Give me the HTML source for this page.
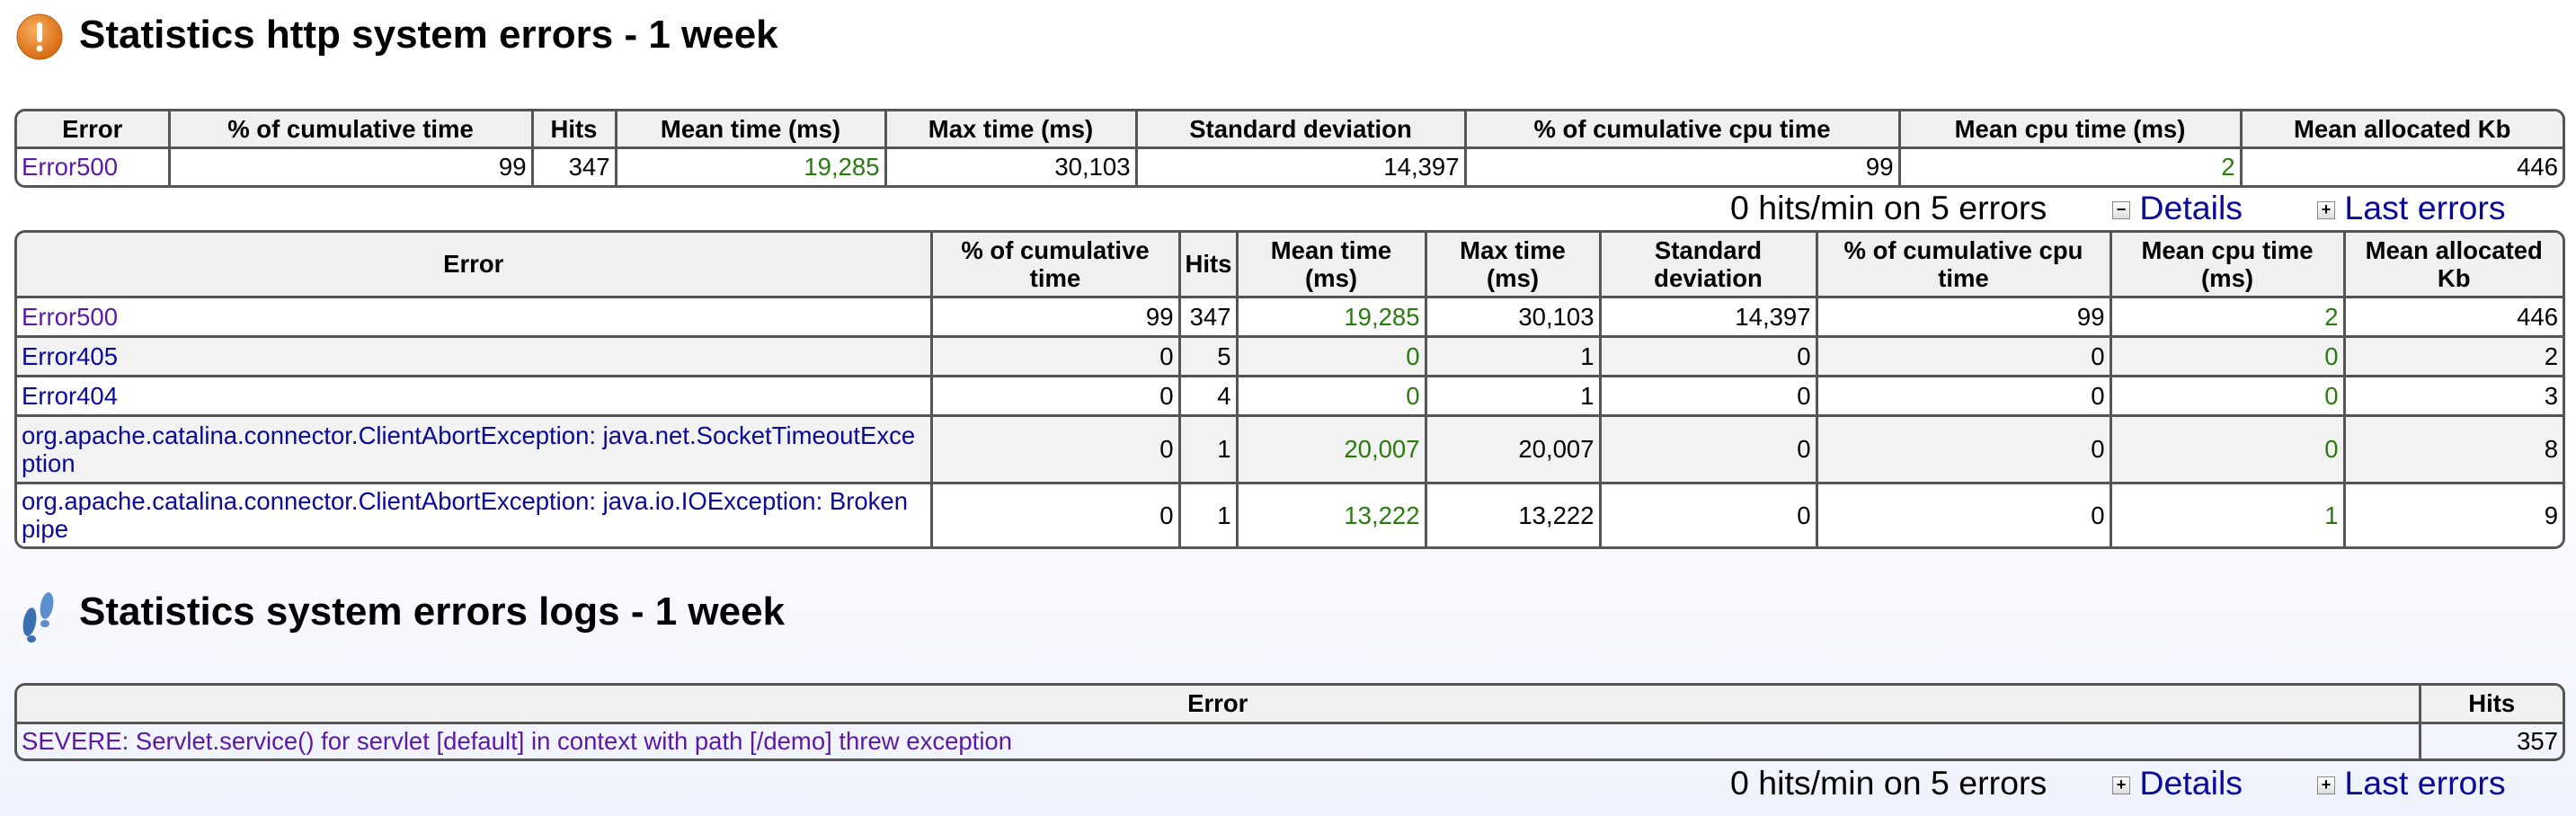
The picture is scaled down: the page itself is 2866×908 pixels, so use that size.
<!DOCTYPE html>
<html><head><meta charset="utf-8"><style>
html,body{margin:0;padding:0}
body{width:2866px;height:908px;position:relative;overflow:hidden;font-family:"Liberation Sans",Arial,sans-serif;background:linear-gradient(to bottom,#fff 0,#fff 50%,#eef2fc 100%)}
.t{position:absolute;font-weight:bold;font-size:44px;color:#000;white-space:nowrap}
.w{position:absolute;left:16px;width:2832px;border:3px solid #555;border-radius:12px;overflow:hidden}
table{border-collapse:collapse;table-layout:fixed;font-size:27.5px;width:100%}
td,th{border:3px solid #555;padding:0 5px;line-height:31px;overflow:hidden}
tr:first-child td,tr:first-child th{border-top:none}
tr:last-child td{border-bottom:none}
td:first-child,th:first-child{border-left:none}
td:last-child,th:last-child{border-right:none}
th{background:#f0f0f0;font-weight:bold;text-align:center}
td{text-align:right;background:#fff}
td.l{text-align:left}
tr.g td{background:#f2f2f2}
.p{color:#5a1aa6}.b{color:#0a0a99}.gr{color:#2b7a10}
.s{position:absolute;font-size:37.5px;white-space:nowrap;color:#000}
.lk{color:#0a0a99}
.bx{display:inline-block;width:18px;height:18px;border:1px solid #888;background:linear-gradient(#fff,#ddd);font-size:18px;line-height:17px;text-align:center;vertical-align:middle;color:#000;font-weight:bold}
</style></head><body>
<svg style="position:absolute;left:16px;top:14px" width="56" height="56"><defs><radialGradient id="o" cx="40%" cy="35%" r="65%"><stop offset="0" stop-color="#f8b060"/><stop offset="1" stop-color="#d86a10"/></radialGradient></defs><circle cx="28" cy="27" r="25" fill="url(#o)" stroke="#b85a10" stroke-width="1"/><rect x="25" y="11" width="6" height="22" rx="3" fill="#fff"/><circle cx="28" cy="40" r="3.5" fill="#fff"/></svg>
<div class="t" style="left:88px;top:14px">Statistics http system errors - 1 week</div>

<div class="w" style="top:121px">
<table><colgroup><col style="width:169px"><col style="width:404px"><col style="width:93px"><col style="width:300px"><col style="width:279px"><col style="width:366px"><col style="width:483px"><col style="width:380px"><col style="width:358px"></colgroup>
<tr style="height:40px"><th>Error</th><th>% of cumulative time</th><th>Hits</th><th>Mean time (ms)</th><th>Max time (ms)</th><th>Standard deviation</th><th>% of cumulative cpu time</th><th>Mean cpu time (ms)</th><th>Mean allocated Kb</th></tr>
<tr style="height:42px"><td class="l p">Error500</td><td>99</td><td>347</td><td class="gr">19,285</td><td>30,103</td><td>14,397</td><td>99</td><td class="gr">2</td><td>446</td></tr>
</table></div>

<div class="s" style="left:1925px;top:210px">0 hits/min on 5 errors</div>
<div class="s" style="left:2350px;top:210px"><span class="bx">−</span> <span class="lk">Details</span></div>
<div class="s" style="left:2578px;top:210px"><span class="bx">+</span> <span class="lk">Last errors</span></div>

<div class="w" style="top:256px">
<table><colgroup><col style="width:1017px"><col style="width:276px"><col style="width:64px"><col style="width:210px"><col style="width:194px"><col style="width:241px"><col style="width:327px"><col style="width:260px"><col style="width:243px"></colgroup>
<tr style="height:71px"><th>Error</th><th>% of cumulative time</th><th>Hits</th><th>Mean time (ms)</th><th>Max time (ms)</th><th>Standard deviation</th><th>% of cumulative cpu time</th><th>Mean cpu time (ms)</th><th>Mean allocated Kb</th></tr>
<tr style="height:44px"><td class="l p">Error500</td><td>99</td><td>347</td><td class="gr">19,285</td><td>30,103</td><td>14,397</td><td>99</td><td class="gr">2</td><td>446</td></tr>
<tr class="g" style="height:44px"><td class="l b">Error405</td><td>0</td><td>5</td><td class="gr">0</td><td>1</td><td>0</td><td>0</td><td class="gr">0</td><td>2</td></tr>
<tr style="height:44px"><td class="l b">Error404</td><td>0</td><td>4</td><td class="gr">0</td><td>1</td><td>0</td><td>0</td><td class="gr">0</td><td>3</td></tr>
<tr class="g" style="height:75px"><td class="l b" style="word-break:break-all">org.apache.catalina.connector.ClientAbortException: java.net.SocketTimeoutException</td><td>0</td><td>1</td><td class="gr">20,007</td><td>20,007</td><td>0</td><td>0</td><td class="gr">0</td><td>8</td></tr>
<tr style="height:71px"><td class="l b">org.apache.catalina.connector.ClientAbortException: java.io.IOException: Broken pipe</td><td>0</td><td>1</td><td class="gr">13,222</td><td>13,222</td><td>0</td><td>0</td><td class="gr">1</td><td>9</td></tr>
</table></div>

<svg style="position:absolute;left:20px;top:656px" width="46" height="60"><ellipse cx="13" cy="36" rx="7" ry="16" fill="#3a6fb0" transform="rotate(10 13 36)"/><ellipse cx="15" cy="55" rx="5" ry="4" fill="#3a6fb0"/><ellipse cx="32" cy="18" rx="7" ry="15" fill="#5b8fd0" transform="rotate(10 32 18)"/><ellipse cx="30" cy="38" rx="5" ry="4" fill="#5b8fd0"/></svg>
<div class="t" style="left:88px;top:656px">Statistics system errors logs - 1 week</div>

<div class="w" style="top:760px;background:transparent">
<table><colgroup><col style="width:2673px"><col style="width:159px"></colgroup>
<tr style="height:41px"><th>Error</th><th>Hits</th></tr>
<tr style="height:40px"><td class="l p" style="background:transparent">SEVERE: Servlet.service() for servlet [default] in context with path [/demo] threw exception</td><td style="background:transparent">357</td></tr>
</table></div>

<div class="s" style="left:1925px;top:850px">0 hits/min on 5 errors</div>
<div class="s" style="left:2350px;top:850px"><span class="bx">+</span> <span class="lk">Details</span></div>
<div class="s" style="left:2578px;top:850px"><span class="bx">+</span> <span class="lk">Last errors</span></div>
</body></html>
